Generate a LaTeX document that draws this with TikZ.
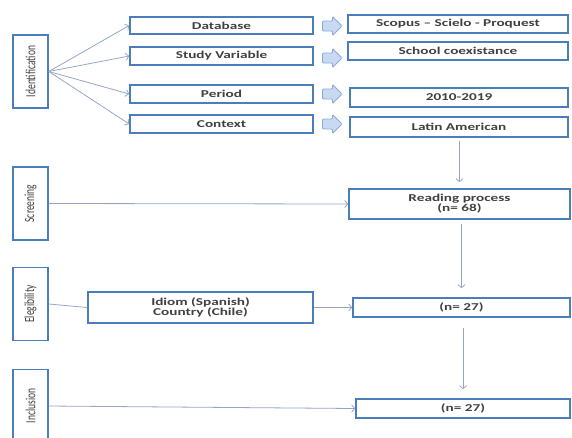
\documentclass[tikz,border=0pt]{standalone}
\usepackage{fontspec}
\setmainfont{Carlito}[FakeStretch=1.45]
\newfontfamily\stagefont{Carlito}[FakeStretch=0.68]
\usetikzlibrary{arrows.meta}
\definecolor{boxblue}{RGB}{74,126,187}
\definecolor{linkgray}{RGB}{150,166,196}
\definecolor{fatfill}{RGB}{200,218,242}
\definecolor{fatdraw}{RGB}{140,170,215}
\begin{document}
\begin{tikzpicture}
        [x=1pt,y=-1pt,
         box/.style={draw=boxblue,line width=1.6pt,fill=white,inner sep=0pt,align=center,
                     text=black!75,font=\bfseries\fontsize{10.5}{10}\selectfont},
         stage/.style={box,rotate=90,minimum width=73pt,minimum height=35pt,
                     font=\stagefont\fontsize{14}{14}\selectfont},
         link/.style={draw=linkgray,line width=0.8pt,-{Straight Barb[length=3pt,width=7pt]}},
         fat/.style={draw=fatdraw,fill=fatfill,line width=0.9pt,rounded corners=1pt}]
        \useasboundingbox (0,0) rectangle (572,437);

        % stages
        \node[stage]  (ID) at  (30.5,71.5)     {Identification};
        \node[stage]  (SC) at  (30.5,203.5)    {Screening};
        \node[stage]  (EL) at  (30.5,304)      {Elegibility};
        \node[stage]  (IN) at  (30.5,406)      {Inclusion};

        % criteria
        \node[box,minimum width=183pt,minimum height=17pt]  (DB)  at (221.5,25.5)  {Database};
        \node[box,minimum width=183pt,minimum height=18pt]  (SV)  at (221.5,56)    {Study Variable};
        \node[box,minimum width=183pt,minimum height=18pt]  (PER) at (221.5,94)    {Period};
        \node[box,minimum width=183pt,minimum height=18pt]  (CTX) at (221.5,124)   {Context};

        % block arrows
        \coordinate  (ADB)  at (332.5,26);
        \coordinate  (ASV)  at (332.5,58);
        \coordinate  (APER) at (332.5,94);
        \coordinate  (ACTX) at (332.5,124);
        \foreach \c in {ADB,ASV,APER,ACTX}
          \draw[fat,shift={(\c)}] (-10,-5) -- (0,-5) -- (0,-9.5) -- (9.5,0) -- (0,9.5) -- (0,5) -- (-10,5) -- cycle;

        % values
        \node[box,minimum width=220pt,minimum height=18pt]  (DBV)  at (458,24)    {Scopus -- Scielo - Proquest};
        \node[box,minimum width=220pt,minimum height=18pt]  (SVV)  at (458,51)    {School coexistance};
        \node[box,minimum width=218pt,minimum height=19pt]  (PERV) at (459,97.5)  {2010-2019};
        \node[box,minimum width=218pt,minimum height=20pt]  (CTXV) at (459,127)   {Latin American};

        % flow
        \node[box,minimum width=221pt,minimum height=30pt]  (RP) at (459.5,204)   {Reading process\\(n= 68)};
        \node[box,minimum width=225pt,minimum height=31pt]  (IC) at (200.5,307.5) {Idiom (Spanish)\\Country (Chile)};
        \node[box,minimum width=217pt,minimum height=19pt]  (N1) at (461.5,307.5) {(n= 27)};
        \node[box,minimum width=214pt,minimum height=19pt]  (N2) at (463,408.5)   {(n= 27)};

        \draw[link]
        (ID.south)  -- (DB.west);
        \draw[link]
        (ID.south)  -- (SV.west);
        \draw[link]
        (ID.south)  -- (PER.west);
        \draw[link]
        (ID.south)  -- (CTX.west);

        \draw[link,shorten <=3pt,shorten >=6pt]   (CTXV.south -| RP.north) -- (RP.north);
        \draw[link]                               (SC.south) -- (RP.west);
        \draw[link,shorten <=4pt,shorten >=9pt]   (RP.south -| N1.north) -- (N1.north);
        \draw[draw=linkgray,line width=0.8pt]     (EL.south) -- (IC.west);
        \draw[link]                               (IC.east) -- (N1.west);
        \draw[link,shorten <=10pt,shorten >=9pt]  (N1.south -| N2.north) -- (N2.north);
        \draw[link]                               (IN.south) -- (N2.west);
\end{tikzpicture}
\end{document}
